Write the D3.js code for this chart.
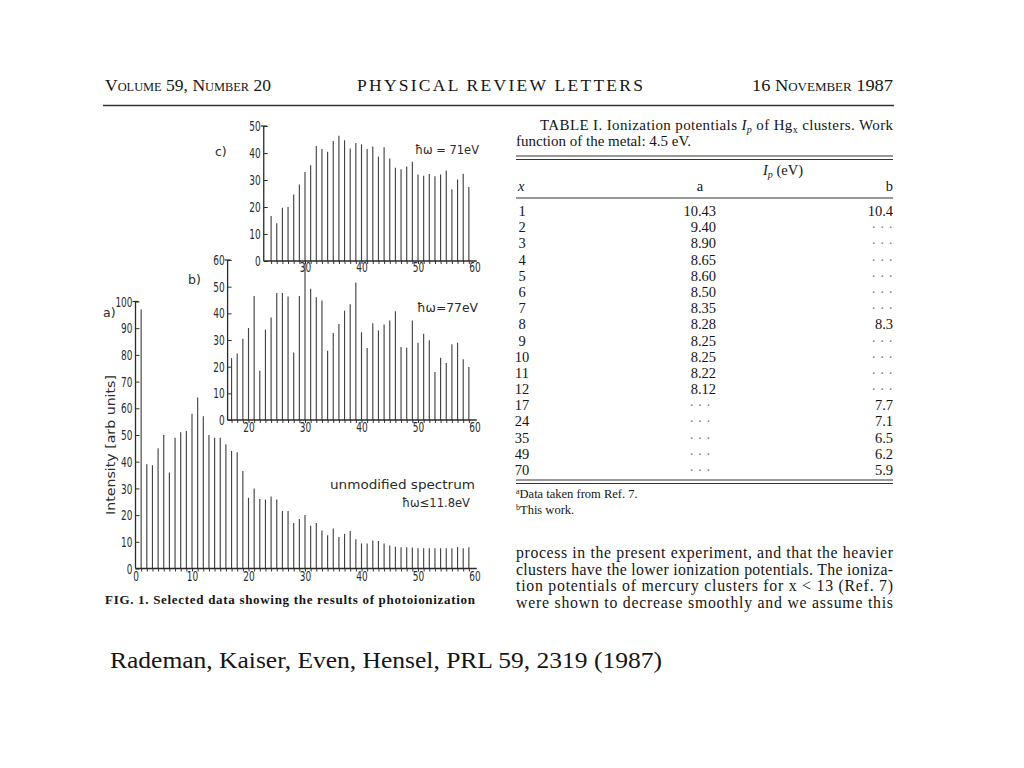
<!DOCTYPE html>
<html>
<head>
<meta charset="utf-8">
<script src="https://cdn.jsdelivr.net/npm/d3@7"></script>
<style>
  body { margin: 0; background: #fff; }
  svg { display: block; }
  .plot text { font-family: "DejaVu Sans Condensed", "Liberation Sans Narrow", sans-serif; fill: #2b2b2b; }
  .serif { font-family: "Liberation Serif", "DejaVu Serif", serif; fill: #151515; }
</style>
</head>
<body>
<svg id="page"></svg>
<script>
// spectra, cluster size starts at firstSize and goes up by one
const aFirstSize = 1
const aValues = [97, 39, 38.7, 45, 50, 36, 49, 51, 51.5, 58,
  64, 57, 50, 49, 49, 46.5, 44, 43.5, 36.5, 26.5,
  30, 26, 25.8, 27, 25.8, 21.5, 21.5, 17, 18.5, 20,
  16, 17, 14.2, 12.5, 15, 11.8, 13, 14, 11, 9.4,
  9.4, 10.5, 10.3, 9.4, 8.6, 8.1, 8, 8, 7.9, 7.6,
  7.6, 7.6, 7.6, 7.6, 7.6, 7.6, 8, 7.6, 8]
const bFirstSize = 17
const bValues = [23.2, 24.9, 30.5, 34.5, 46.5, 18.5, 33.9, 38.4, 47.6, 47.6,
  46.3, 25.3, 46.5, 59, 49.2, 46, 44.8, 26, 32.6, 36,
  41, 43.4, 51.6, 32.9, 27, 36.3, 33.6, 35.8, 37.3, 40.8,
  27.4, 27.1, 37.3, 29, 32.3, 29.9, 18, 23.3, 21.4, 28.4,
  29, 22.8, 19.9]
const cFirstSize = 24
const cValues = [16.7, 14, 19.7, 20, 24.6, 28.3, 33, 35.5, 42.6, 41.5,
  40.5, 44.4, 46.4, 44.7, 41.7, 43.7, 43.2, 41.5, 42.4, 38.7,
  42.1, 38, 34.5, 34, 35, 36.8, 32, 31.6, 32.2, 31.4,
  32, 33.5, 26.6, 30.2, 32.3, 27.4]

const aYTicks = [0, 10, 20, 30, 40, 50, 60, 70, 80, 90, 100]
const aXTicks = [0, 10, 20, 30, 40, 50, 60]
const bYTicks = [0, 10, 20, 30, 40, 50, 60]
const bXTicks = [20, 30, 40, 50, 60]
const cYTicks = [0, 10, 20, 30, 40, 50]
const cXTicks = [30, 40, 50, 60]

// table I
const tableX = ["1", "2", "3", "4", "5", "6", "7", "8", "9", "10", "11", "12", "17", "24", "35", "49", "70"]
const tableA = ["10.43", "9.40", "8.90", "8.65", "8.60", "8.50", "8.35", "8.28", "8.25", "8.25", "8.22", "8.12", null, null, null, null, null]
const tableB = ["10.4", null, null, null, null, null, null, "8.3", null, null, null, null, "7.7", "7.1", "6.5", "6.2", "5.9"]

const bodyLines = [
  "process in the present experiment, and that the heavier",
  "clusters have the lower ionization potentials.  The ioniza-",
  "tion potentials of mercury clusters for x < 13 (Ref. 7)",
  "were shown to decrease smoothly and we assume this"
]

const svg = d3.select("#page").attr("width", 1024).attr("height", 768)
svg.append("rect").attr("width", 1024).attr("height", 768).attr("fill", "#fff")

svg.append("clipPath").attr("id", "scan")
  .append("rect").attr("x", 0).attr("y", 0).attr("width", 1024).attr("height", 612)
const page = svg.append("g").attr("clip-path", "url(#scan)")

// shared size axis, all three spectra line up on it
const x = d3.scaleLinear().domain([0, 60]).range([135.5, 474.5])

// the scan's digits are tall and narrow, squeeze them
const narrow = (s) => s.selectAll("text")
  .attr("font-size", 14.5)
  .attr("textLength", function() { return this.textContent.length * 5.7 })
  .attr("lengthAdjust", "spacingAndGlyphs")

const drawPanel = (cfg) => {
  const y = d3.scaleLinear().domain(cfg.yDomain).range(cfg.yRange)
  const g = page.append("g").attr("class", "plot")
  const axisX = x(cfg.axisStart)
  const sizes = cfg.values.map((v, i) => cfg.firstSize + i)

  g.append("g").selectAll("line")
    .data(cfg.values)
    .enter()
    .append("line")
    .attr("x1", (d, i) => x(sizes[i]))
    .attr("x2", (d, i) => x(sizes[i]))
    .attr("y1", y(0))
    .attr("y2", d => y(d))
    .attr("stroke", "#444")
    .attr("stroke-width", 1.15)

  // minor ticks, one per cluster size
  g.append("g")
    .attr("transform", `translate(0,${y(0)})`)
    .call(d3.axisBottom(x).tickValues(sizes).tickSize(3).tickFormat(""))
    .call(s => s.select(".domain").remove())
    .call(s => s.selectAll("line").attr("stroke", "#333"))

  g.append("g")
    .attr("transform", `translate(0,${y(0)})`)
    .call(d3.axisBottom(x).tickValues(cfg.xTicks).tickSize(0).tickPadding(cfg.xPad))
    .call(s => s.select(".domain").remove())
    .call(narrow)

  g.append("g")
    .attr("transform", `translate(${axisX},0)`)
    .call(d3.axisLeft(y).tickValues(cfg.yTicks).tickSize(-4).tickPadding(3))
    .call(s => s.select(".domain").remove())
    .call(s => s.selectAll("line").attr("stroke", "#333"))
    .call(narrow)

  // axis lines
  g.append("line")
    .attr("x1", axisX).attr("x2", x(60.4))
    .attr("y1", y(0)).attr("y2", y(0))
    .attr("stroke", "#2a2a2a").attr("stroke-width", 1.3)
  g.append("line")
    .attr("x1", axisX).attr("x2", axisX)
    .attr("y1", y(0)).attr("y2", y(cfg.yDomain[1]))
    .attr("stroke", "#2a2a2a").attr("stroke-width", 1.3)
  g.append("line")
    .attr("x1", axisX - 3).attr("x2", axisX + 3)
    .attr("y1", y(cfg.yDomain[1])).attr("y2", y(cfg.yDomain[1]))
    .attr("stroke", "#2a2a2a").attr("stroke-width", 1.2)

  cfg.notes.forEach(n => {
    g.append("text")
      .attr("x", n.x).attr("y", n.y)
      .attr("font-size", 12.5)
      .attr("textLength", n.len || null)
      .attr("lengthAdjust", "spacingAndGlyphs")
      .style("font-family", "'DejaVu Sans', sans-serif")
      .text(n.t)
  })
  return g
}

drawPanel({
  values: cValues, firstSize: cFirstSize, yDomain: [0, 50], yRange: [261, 126],
  axisStart: 22.7, yTicks: cYTicks, xTicks: cXTicks, xPad: 1,
  notes: [{t: "c)", x: 215, y: 156}, {t: "ħω = 71eV", x: 415, y: 154, len: 64}]
})
drawPanel({
  values: bValues, firstSize: bFirstSize, yDomain: [0, 60], yRange: [420, 260],
  axisStart: 16.3, yTicks: bYTicks, xTicks: bXTicks, xPad: 2,
  notes: [{t: "b)", x: 188, y: 284}, {t: "ħω=77eV", x: 417, y: 312, len: 61}]
})
const aPanel = drawPanel({
  values: aValues, firstSize: aFirstSize, yDomain: [0, 100], yRange: [568.5, 301.5],
  axisStart: 0, yTicks: aYTicks, xTicks: aXTicks, xPad: 2,
  notes: [{t: "a)", x: 103, y: 317}, {t: "unmodified spectrum", x: 330, y: 489, len: 145},
          {t: "ħω≤11.8eV", x: 402, y: 507, len: 68}]
})
aPanel.append("text")
  .attr("transform", "translate(115,445) rotate(-90)")
  .attr("text-anchor", "middle")
  .attr("font-size", 12.5)
  .attr("textLength", 140)
  .attr("lengthAdjust", "spacingAndGlyphs")
  .style("font-family", "'DejaVu Sans', sans-serif")
  .text("Intensity [arb units]")

// running head
const head = page.append("g").attr("class", "serif")
head.append("text").attr("class", "serif")
  .attr("x", 105).attr("y", 91).attr("font-size", 17)
  .style("font-variant", "small-caps")
  .attr("textLength", 166).attr("lengthAdjust", "spacingAndGlyphs")
  .text("Volume 59,  Number 20")
head.append("text").attr("class", "serif")
  .attr("x", 357).attr("y", 91).attr("font-size", 17.5)
  .attr("textLength", 286).attr("lengthAdjust", "spacing")
  .text("PHYSICAL REVIEW LETTERS")
head.append("text").attr("class", "serif")
  .attr("x", 752).attr("y", 91).attr("font-size", 17)
  .style("font-variant", "small-caps")
  .attr("textLength", 141).attr("lengthAdjust", "spacingAndGlyphs")
  .text("16 November 1987")
head.append("line")
  .attr("x1", 103).attr("x2", 894).attr("y1", 105.5).attr("y2", 105.5)
  .attr("stroke", "#333").attr("stroke-width", 1.3)

// table
const tbl = page.append("g").attr("class", "serif").attr("font-size", 14.5)
const cap1 = tbl.append("text").attr("class", "serif")
  .attr("x", 540).attr("y", 130).attr("font-size", 15)
  .attr("textLength", 353).attr("lengthAdjust", "spacing")
cap1.append("tspan").text("TABLE I.  Ionization potentials ")
cap1.append("tspan").attr("font-style", "italic").text("I")
cap1.append("tspan").attr("font-size", 10).attr("dy", 3).attr("font-style", "italic").text("p")
cap1.append("tspan").attr("dy", -3).text(" of Hg")
cap1.append("tspan").attr("font-size", 10).attr("dy", 3).text("x")
cap1.append("tspan").attr("dy", -3).text(" clusters.  Work")
tbl.append("text").attr("class", "serif").attr("x", 516).attr("y", 146).attr("font-size", 15)
  .text("function of the metal:  4.5 eV.")

const rule = (yy) => tbl.append("line")
  .attr("x1", 516).attr("x2", 893).attr("y1", yy).attr("y2", yy)
  .attr("stroke", "#333").attr("stroke-width", 1)
rule(156); rule(159.5); rule(198); rule(480); rule(483.5)

const ip = tbl.append("text").attr("class", "serif").attr("x", 763).attr("y", 175)
ip.append("tspan").attr("font-style", "italic").text("I")
ip.append("tspan").attr("font-size", 10).attr("dy", 3).attr("font-style", "italic").text("p")
ip.append("tspan").attr("dy", -3).text(" (eV)")
tbl.append("text").attr("class", "serif").attr("x", 518).attr("y", 191).attr("font-style", "italic").text("x")
tbl.append("text").attr("class", "serif").attr("x", 700).attr("y", 191).attr("text-anchor", "middle").text("a")
tbl.append("text").attr("class", "serif").attr("x", 893).attr("y", 191).attr("text-anchor", "end").text("b")

const rowY = d3.scaleLinear().domain([0, tableX.length - 1]).range([216, 475])
tbl.append("g").selectAll("text").data(tableX).enter().append("text")
  .attr("class", "serif").attr("x", 522).attr("y", (d, i) => rowY(i))
  .attr("text-anchor", "middle").text(d => d)
tbl.append("g").selectAll("text").data(tableA).enter().append("text")
  .attr("class", "serif")
  .attr("x", d => d ? 716 : 700).attr("y", (d, i) => rowY(i))
  .attr("text-anchor", d => d ? "end" : "middle")
  .attr("fill-opacity", d => d ? 1 : 0.6)
  .text(d => d || "· · ·")
tbl.append("g").selectAll("text").data(tableB).enter().append("text")
  .attr("class", "serif")
  .attr("x", 893).attr("y", (d, i) => rowY(i))
  .attr("text-anchor", "end")
  .attr("fill-opacity", d => d ? 1 : 0.6)
  .text(d => d || "· · ·")

const fa = tbl.append("text").attr("class", "serif").attr("x", 516).attr("y", 498).attr("font-size", 12.5)
fa.append("tspan").attr("font-size", 8).attr("dy", -4).text("a")
fa.append("tspan").attr("dy", 4).text("Data taken from Ref. 7.")
const fb = tbl.append("text").attr("class", "serif").attr("x", 516).attr("y", 514).attr("font-size", 12.5)
fb.append("tspan").attr("font-size", 8).attr("dy", -4).text("b")
fb.append("tspan").attr("dy", 4).text("This work.")

// body text, justified to the column
page.append("g").selectAll("text").data(bodyLines).enter().append("text")
  .attr("class", "serif")
  .attr("x", 516).attr("y", (d, i) => 558 + i * 16.6)
  .attr("font-size", 15.8)
  .attr("textLength", 377).attr("lengthAdjust", "spacing")
  .text(d => d)

page.append("text").attr("class", "serif")
  .attr("x", 105).attr("y", 604).attr("font-size", 13)
  .attr("font-weight", "bold")
  .attr("textLength", 370).attr("lengthAdjust", "spacing")
  .text("FIG. 1.  Selected data showing the results of photoionization")

// citation under the scan
svg.append("text").attr("class", "serif")
  .attr("x", 110).attr("y", 668).attr("font-size", 23)
  .attr("fill", "#000")
  .attr("textLength", 552).attr("lengthAdjust", "spacingAndGlyphs")
  .text("Rademan, Kaiser, Even, Hensel, PRL 59, 2319 (1987)")
</script>
</body>
</html>
